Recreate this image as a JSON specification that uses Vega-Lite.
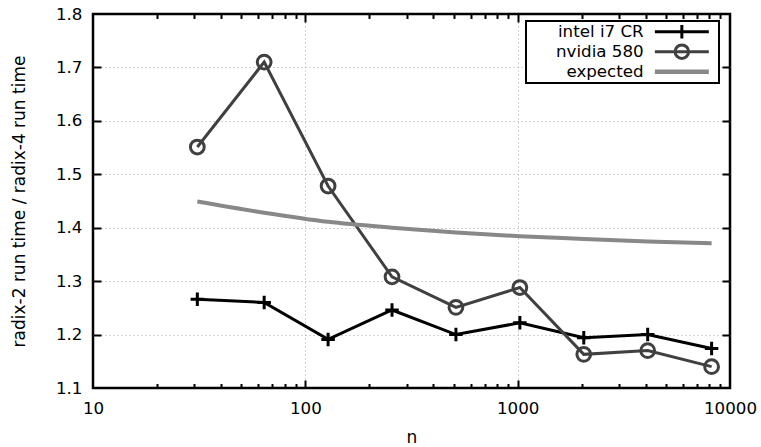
{
  "$schema": "https://vega.github.io/schema/vega-lite/v6.json",
  "width": 637,
  "height": 374,
  "autosize": {"type": "none"},
  "padding": {"left": 93, "top": 14, "right": 31, "bottom": 59},
  "background": "white",
  "config": {
    "font": "DejaVu Sans",
    "view": {"stroke": "#000000", "strokeWidth": 2.5},
    "axis": {
      "labelFont": "DejaVu Sans",
      "titleFont": "DejaVu Sans",
      "labelFontSize": 16.7,
      "titleFontSize": 17,
      "titleFontWeight": "normal",
      "labelColor": "#000000",
      "titleColor": "#000000",
      "domain": false,
      "ticks": false,
      "tickSize": 0,
      "gridColor": "#a8a8a8",
      "gridDash": [1, 3],
      "gridWidth": 1,
      "labelOverlap": false,
      "labelFlush": false
    },
    "legend": {"labelFont": "DejaVu Sans", "labelFontSize": 16.7, "labelColor": "#000000"}
  },
  "data": {
    "values": [
      {"series": "intel i7 CR", "n": 31, "ratio": 1.266},
      {"series": "intel i7 CR", "n": 64, "ratio": 1.260},
      {"series": "intel i7 CR", "n": 128, "ratio": 1.191},
      {"series": "intel i7 CR", "n": 256, "ratio": 1.246},
      {"series": "intel i7 CR", "n": 512, "ratio": 1.200},
      {"series": "intel i7 CR", "n": 1024, "ratio": 1.222},
      {"series": "intel i7 CR", "n": 2048, "ratio": 1.194},
      {"series": "intel i7 CR", "n": 4096, "ratio": 1.200},
      {"series": "intel i7 CR", "n": 8192, "ratio": 1.174},
      {"series": "nvidia 580", "n": 31, "ratio": 1.551},
      {"series": "nvidia 580", "n": 64, "ratio": 1.710},
      {"series": "nvidia 580", "n": 128, "ratio": 1.478},
      {"series": "nvidia 580", "n": 256, "ratio": 1.308},
      {"series": "nvidia 580", "n": 512, "ratio": 1.251},
      {"series": "nvidia 580", "n": 1024, "ratio": 1.288},
      {"series": "nvidia 580", "n": 2048, "ratio": 1.163},
      {"series": "nvidia 580", "n": 4096, "ratio": 1.170},
      {"series": "nvidia 580", "n": 8192, "ratio": 1.140},
      {"series": "expected", "n": 31, "ratio": 1.449},
      {"series": "expected", "n": 64, "ratio": 1.428},
      {"series": "expected", "n": 128, "ratio": 1.411},
      {"series": "expected", "n": 256, "ratio": 1.400},
      {"series": "expected", "n": 512, "ratio": 1.391},
      {"series": "expected", "n": 1024, "ratio": 1.384},
      {"series": "expected", "n": 2048, "ratio": 1.379},
      {"series": "expected", "n": 4096, "ratio": 1.374},
      {"series": "expected", "n": 8192, "ratio": 1.371}
    ]
  },
  "encoding": {
    "color": {
      "field": "series",
      "type": "nominal",
      "scale": {"domain": ["intel i7 CR", "nvidia 580", "expected"], "range": ["#000000", "#404040", "#888888"]},
      "legend": {
        "title": null,
        "orient": "none",
        "legendX": 433,
        "legendY": 7,
        "fillColor": "white",
        "strokeColor": "black",
        "padding": 1,
        "rowPadding": 0,
        "clipHeight": 19.3,
        "labelAlign": "right",
        "labelOffset": -46.5,
        "symbolOffset": 146.5,
        "symbolSize": 182,
        "symbolStrokeWidth": 3,
        "labelFontSize": 16.7,
        "encode": {
          "entries": {"update": {"clip": {"value": false}, "width": {"value": 191}}},
          "symbols": {
            "update": {
              "shape": {"signal": "datum.value === 'intel i7 CR' ? 'M-4,0H4M0,-1V1' : (datum.value === 'nvidia 580' ? 'M-4,0H4M1,0A1,1 0 1 1 -1,0A1,1 0 1 1 1,0' : 'M-4,0H4')"},
              "stroke": {"signal": "scale('color', datum.value)"},
              "fill": {"value": "transparent"},
              "strokeWidth": {"signal": "datum.value === 'expected' ? 4.5 : 3"},
              "size": {"value": 182},
              "opacity": {"value": 1}
            }
          },
          "legend": {"update": {"strokeWidth": {"value": 2}}}
        }
      }
    }
  },
  "layer": [
    {
      "transform": [{"filter": "datum.series === 'intel i7 CR'"}],
      "mark": {"type": "line", "strokeWidth": 3},
      "encoding": {
        "x": {
          "field": "n", "type": "quantitative",
          "scale": {"type": "log", "domain": [10, 10000], "nice": false},
          "axis": {
            "orient": "bottom",
            "title": "n",
            "titlePadding": 13,
            "values": [10, 100, 1000, 10000],
            "format": "d",
            "grid": true,
            "gridOpacity": {"condition": {"test": "datum.value == 100 || datum.value == 1000", "value": 1}, "value": 0},
            "labelPadding": 12
          }
        },
        "y": {
          "field": "ratio", "type": "quantitative",
          "scale": {"domain": [1.1, 1.8], "nice": false, "zero": false},
          "axis": {
            "orient": "left",
            "title": "radix-2 run time / radix-4 run time",
            "titlePadding": 27,
            "values": [1.1, 1.2, 1.3, 1.4, 1.5, 1.6, 1.7, 1.8],
            "format": ".1f",
            "grid": true,
            "gridOpacity": {"condition": {"test": "datum.value > 1.15 && datum.value < 1.75", "value": 1}, "value": 0},
            "labelPadding": 11
          }
        }
      }
    },
    {
      "transform": [{"filter": "datum.series === 'nvidia 580'"}],
      "mark": {"type": "line", "strokeWidth": 3},
      "encoding": {
        "x": {
          "field": "n", "type": "quantitative",
          "axis": {"orient": "top", "title": null, "labels": false, "ticks": false, "domain": false, "grid": true,
                   "gridColor": "#000000", "gridWidth": 2,
                   "gridDash": {"condition": {"test": "datum.value == 100 || datum.value == 1000", "value": [8, 358, 8, 1000]}, "value": [4.5, 365, 4.5, 1000]},
                   "values": [20, 30, 40, 50, 60, 70, 80, 90, 100, 200, 300, 400, 500, 600, 700, 800, 900, 1000, 2000, 3000, 4000, 5000, 6000, 7000, 8000, 9000]}
        },
        "y": {
          "field": "ratio", "type": "quantitative",
          "axis": {"orient": "right", "title": null, "labels": false, "ticks": false, "domain": false, "grid": true,
                   "gridColor": "#000000", "gridWidth": 2, "gridDash": [8, 621, 8, 1000],
                   "values": [1.2, 1.3, 1.4, 1.5, 1.6, 1.7]}
        }
      }
    },
    {
      "transform": [{"filter": "datum.series === 'expected'"}],
      "mark": {"type": "line", "strokeWidth": 4, "interpolate": "monotone"},
      "encoding": {
        "x": {"field": "n", "type": "quantitative", "axis": null},
        "y": {"field": "ratio", "type": "quantitative", "axis": null}
      }
    },
    {
      "transform": [{"filter": "datum.series === 'intel i7 CR'"}],
      "mark": {"type": "point", "shape": "M-1,0H1M0,-1V1", "size": 182, "strokeWidth": 3, "filled": false, "opacity": 1},
      "encoding": {
        "x": {"field": "n", "type": "quantitative", "axis": null},
        "y": {"field": "ratio", "type": "quantitative", "axis": null}
      }
    },
    {
      "transform": [{"filter": "datum.series === 'nvidia 580'"}],
      "mark": {"type": "point", "shape": "circle", "size": 190, "strokeWidth": 3, "filled": false, "opacity": 1},
      "encoding": {
        "x": {"field": "n", "type": "quantitative", "axis": null},
        "y": {"field": "ratio", "type": "quantitative", "axis": null}
      }
    }
  ],
  "resolve": {"axis": {"x": "independent", "y": "independent"}}
}
